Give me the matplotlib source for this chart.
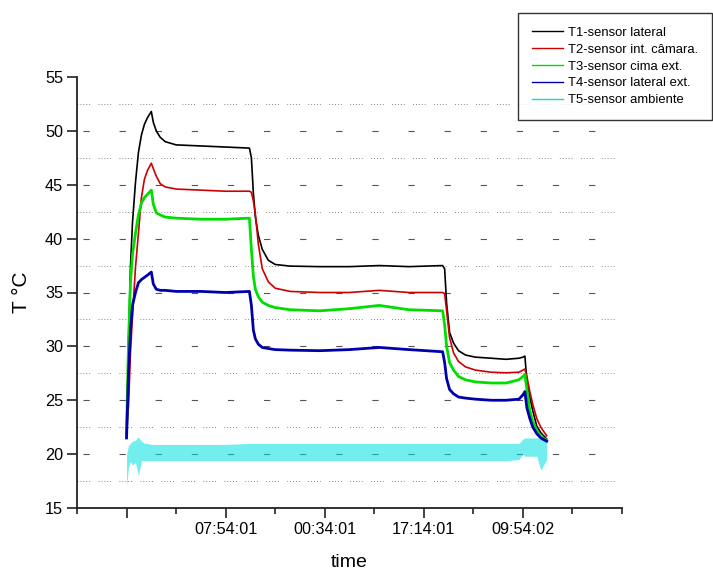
import matplotlib
matplotlib.use("Agg")
import matplotlib.pyplot as plt
from matplotlib.ticker import MultipleLocator, FixedLocator, FixedFormatter
import numpy as np

plt.rcParams['font.family'] = ['Liberation Sans', 'DejaVu Sans']
plt.rcParams['lines.scale_dashes'] = False

# time in minutes from the start of logging
t = [0, 20, 40, 60, 90, 120, 150, 180, 210, 250, 270, 300, 340, 390, 500, 750,
     1000, 1240, 1260, 1280, 1300, 1330, 1370, 1430, 1500, 1650, 1950, 2250, 2550,
     2850, 3190, 3210, 3230, 3260, 3300, 3350, 3420, 3520, 3680, 3830, 3960, 4000,
     4020, 4040, 4070, 4100, 4140, 4180, 4240]

t1 = [21.6, 30.5, 37.5, 41.5, 45.2, 48.0, 49.6, 50.6, 51.2, 51.8, 50.8, 50.0, 49.4,
      49.0, 48.7, 48.6, 48.5, 48.4, 47.5, 44.2, 42.0, 40.3, 39.0, 38.0, 37.6, 37.45,
      37.4, 37.4, 37.5, 37.4, 37.5, 37.2, 34.0, 31.3, 30.3, 29.6, 29.2, 29.0, 28.9,
      28.8, 28.9, 29.0, 29.1, 26.8, 25.3, 24.0, 22.6, 22.0, 21.4]

t2 = [22.0, 24.5, 29.5, 32.8, 37.3, 40.5, 43.8, 45.5, 46.3, 47.0, 46.5, 45.8, 45.1,
      44.8, 44.6, 44.5, 44.4, 44.4, 44.3, 43.5, 42.3, 39.5, 37.2, 36.0, 35.4, 35.1,
      35.0, 35.0, 35.2, 35.0, 35.0, 34.9, 33.3, 30.8, 29.4, 28.6, 28.1, 27.8, 27.6,
      27.55, 27.6, 27.8, 27.9, 27.2, 25.8, 24.6, 23.3, 22.5, 21.7]

t3 = [21.8, 30.5, 36.0, 38.5, 40.5, 42.2, 43.3, 43.8, 44.1, 44.5, 43.2, 42.4, 42.2,
      42.0, 41.9, 41.8, 41.8, 41.9, 39.0, 36.5, 35.3, 34.6, 34.1, 33.8, 33.6, 33.4,
      33.3, 33.5, 33.8, 33.4, 33.3, 32.0, 30.0, 28.5, 27.8, 27.2, 26.9, 26.7, 26.6,
      26.6, 26.9, 27.2, 27.4, 26.0, 24.0, 23.0, 22.2, 21.6, 21.3]

t4 = [21.5, 27.5, 31.5, 33.8, 35.0, 35.9, 36.2, 36.4, 36.6, 36.9, 35.8, 35.3, 35.2,
      35.2, 35.1, 35.1, 35.0, 35.1, 33.8, 31.5, 30.7, 30.2, 29.9, 29.8, 29.7, 29.65,
      29.6, 29.7, 29.9, 29.7, 29.5, 28.5, 27.0, 26.0, 25.6, 25.3, 25.2, 25.1, 25.0,
      25.0, 25.1, 25.5, 25.8, 24.3, 23.3, 22.5, 21.9, 21.5, 21.2]

# ambient sensor is very noisy: lower / upper envelope of the trace
t5_lo = [17.0, 18.8, 19.3, 19.0, 19.2, 18.0, 19.4, 19.4, 19.4, 19.4, 19.4, 19.4, 19.4,
         19.4, 19.4, 19.4, 19.4, 19.4, 19.4, 19.4, 19.4, 19.4, 19.4, 19.4, 19.4, 19.4,
         19.4, 19.4, 19.4, 19.4, 19.4, 19.4, 19.4, 19.4, 19.4, 19.4, 19.4, 19.4, 19.4,
         19.4, 19.5, 20.0, 19.8, 19.8, 19.8, 19.8, 19.8, 18.5, 19.5]
t5_hi = [20.0, 20.8, 21.0, 21.2, 21.3, 21.6, 21.2, 21.0, 21.0, 20.9, 20.9, 20.9, 20.9,
         20.9, 20.9, 20.9, 20.9, 21.0, 21.0, 21.0, 21.0, 21.0, 21.0, 21.0, 21.0, 21.0,
         21.0, 21.0, 21.0, 21.0, 21.0, 21.0, 21.0, 21.0, 21.0, 21.0, 21.0, 21.0, 21.0,
         21.0, 21.0, 21.4, 21.5, 21.5, 21.5, 21.5, 21.5, 21.4, 21.2]

tick_pos = [0, 1000, 2000, 3000, 4000]
tick_lab = ['', '07:54:01', '00:34:01', '17:14:01', '09:54:02']
grid_major = [20, 25, 30, 35, 40, 45, 50]
grid_minor = [17.5, 22.5, 27.5, 32.5, 37.5, 42.5, 47.5, 52.5]

labels = ['T1-sensor lateral', 'T2-sensor int. câmara.', 'T3-sensor cima ext.',
          'T4-sensor lateral ext.', 'T5-sensor ambiente']
colors = ['#000000', '#cc0000', '#00dd00', '#0000aa', '#00e0e0']

fig = plt.figure(figsize=(7.13, 5.71), dpi=100)
ax = fig.add_axes([77/713, 63/571, 545/713, 431/571])

# Origin-style grid: short dashes on the major values, dotted groups between
for g in grid_major:
    ax.axhline(g, color='#555555', lw=0.8, linestyle=(21.7, (4.5, 21.5)), zorder=0)
for g in grid_minor:
    ax.axhline(g, color='#888888', lw=0.7, zorder=0,
               linestyle=(0, (0.7, 1.4, 0.7, 1.4, 0.7, 1.4, 0.7, 1.4, 0.7, 6)))

ax.plot(t, t1, color=colors[0], lw=1.2, label=labels[0])
ax.plot(t, t2, color=colors[1], lw=1.2, label=labels[1])
ax.plot(t, t3, color=colors[2], lw=2.0, label=labels[2])
ax.plot(t, t4, color=colors[3], lw=2.0, label=labels[3])
ax.fill_between(t, t5_lo, t5_hi, color=colors[4], alpha=0.55, lw=0)
ax.plot([], [], color=colors[4], lw=1.2, label=labels[4])

ax.set_xlim(-500, 5000)
ax.set_ylim(15, 55)

ax.xaxis.set_major_locator(FixedLocator(tick_pos))
ax.xaxis.set_major_formatter(FixedFormatter(tick_lab))
ax.xaxis.set_minor_locator(MultipleLocator(500))
ax.yaxis.set_major_locator(MultipleLocator(5))

for s in ['top', 'right']:
    ax.spines[s].set_visible(False)
for s in ['left', 'bottom']:
    ax.spines[s].set_linewidth(1.3)
    ax.spines[s].set_color('#222222')

ax.tick_params(axis='both', which='major', direction='out', length=7, width=1.2,
               color='#222222', labelsize=11.7, pad=3)
ax.tick_params(axis='x', which='minor', direction='out', length=4.5, width=1.2, color='#222222')

ax.set_xlabel('time', fontsize=14, labelpad=12)
ax.set_ylabel('T °C', fontsize=15, labelpad=10)

leg = fig.legend(loc='upper right', bbox_to_anchor=(712/713, 1 - 13/571),
                 fontsize=9.4, frameon=True, fancybox=False, handlelength=2.4,
                 handletextpad=0.4, labelspacing=0.36, borderpad=1.05, borderaxespad=0)
leg.get_frame().set_edgecolor('black')
leg.get_frame().set_linewidth(1.0)
for h in leg.get_lines():
    h.set_linewidth(1.0)

fig.savefig('out.png', dpi=100)
